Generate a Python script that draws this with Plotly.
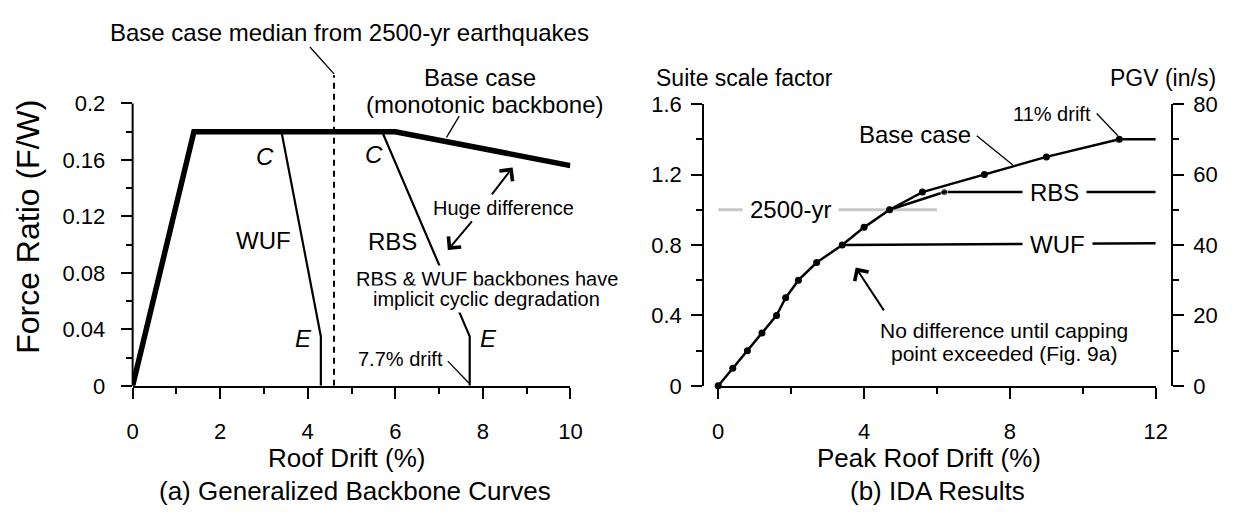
import plotly.graph_objects as go

# ---------------- data ----------------
# (a) Generalized backbone curves
bb_base_x = [0, 1.4, 6.0, 10]
bb_base_y = [0, 0.18, 0.18, 0.156]
bb_wuf_x = [3.4, 4.3, 4.3]
bb_wuf_y = [0.18, 0.035, 0]
bb_rbs_x = [5.7, 7.7, 7.7]
bb_rbs_y = [0.18, 0.035, 0]
median_x = [4.6, 4.6]
median_y = [0, 0.22]

# (b) IDA results
ida_base_x = [0, 0.4, 0.8, 1.2, 1.6, 1.85, 2.2, 2.7, 3.4, 4.0, 4.7, 5.6, 7.3, 9.0, 11.0]
ida_base_y = [0, 0.1, 0.2, 0.3, 0.4, 0.5, 0.6, 0.7, 0.8, 0.9, 1.0, 1.1, 1.2, 1.3, 1.4]
ida_base_tail_x = [11.0, 12]
ida_base_tail_y = [1.4, 1.4]
ida_rbs_x = [4.7, 6.2, 12]
ida_rbs_y = [1.0, 1.1, 1.1]
ida_rbs_msize = [7, 7, 0]
ida_wuf_x = [3.4, 12]
ida_wuf_y = [0.8, 0.81]
hazard_x = [0, 6]
hazard_y = [1.0, 1.0]

# ticks
left_xticks = [0, 2, 4, 6, 8, 10]
left_xminor = [1, 3, 5, 7, 9]
left_yticks = [0, 0.04, 0.08, 0.12, 0.16, 0.2]
left_yticktext = ["0", "0.04", "0.08", "0.12", "0.16", "0.2"]
left_yminor = [0.02, 0.06, 0.10, 0.14, 0.18]
right_xticks = [0, 4, 8, 12]
right_xminor = [2, 6, 10]
sf_ticks = [0, 0.4, 0.8, 1.2, 1.6]
sf_ticktext = ["0", "0.4", "0.8", "1.2", "1.6"]
sf_minor = [0.2, 0.6, 1.0, 1.4]
pgv_ticks = [0, 20, 40, 60, 80]
pgv_minor = [10, 30, 50, 70]

# ---------------- layout geometry ----------------
W, H = 1240, 521
FONT = "Liberation Sans, Arial, sans-serif"
TICKFONT = 22


def px(x):
    return x / W


def py(y):
    return 1 - y / H


L_X0, L_X1 = 128.5, 572.7
R_X0, R_X1 = 722.7, 1166.7
BOT = 392.7
L_YMAX = 0.26
L_TOP = BOT - L_YMAX * 1483
R_TOP = 96.7
R_LAXIS = 707.5
R_RAXIS = 1183.0

fig = go.Figure()

# ---- left panel traces ----
fig.add_trace(go.Scatter(x=median_x, y=median_y, mode="lines",
                         line=dict(color="black", width=2, dash="6px,5px"),
                         xaxis="x", yaxis="y", hoverinfo="skip"))
fig.add_trace(go.Scatter(x=bb_wuf_x, y=bb_wuf_y, mode="lines",
                         line=dict(color="black", width=2.2), xaxis="x", yaxis="y"))
fig.add_trace(go.Scatter(x=bb_rbs_x, y=bb_rbs_y, mode="lines",
                         line=dict(color="black", width=2.2), xaxis="x", yaxis="y"))
fig.add_trace(go.Scatter(x=bb_base_x, y=bb_base_y, mode="lines",
                         line=dict(color="black", width=5.5), xaxis="x", yaxis="y"))

# ---- right panel traces ----
fig.add_trace(go.Scatter(x=hazard_x, y=hazard_y, mode="lines",
                         line=dict(color="#c8c8c8", width=3), xaxis="x2", yaxis="y2"))
fig.add_trace(go.Scatter(x=ida_wuf_x, y=ida_wuf_y, mode="lines",
                         line=dict(color="black", width=2.5), xaxis="x2", yaxis="y2"))
fig.add_trace(go.Scatter(x=ida_rbs_x, y=ida_rbs_y, mode="lines+markers",
                         line=dict(color="black", width=2.5),
                         marker=dict(color="black", size=ida_rbs_msize),
                         cliponaxis=False, xaxis="x2", yaxis="y2"))
fig.add_trace(go.Scatter(x=ida_base_tail_x, y=ida_base_tail_y, mode="lines",
                         line=dict(color="black", width=2.5), xaxis="x2", yaxis="y2"))
fig.add_trace(go.Scatter(x=ida_base_x, y=ida_base_y, mode="lines+markers",
                         line=dict(color="black", width=2.5),
                         marker=dict(color="black", size=7),
                         cliponaxis=False, xaxis="x2", yaxis="y2"))
fig.add_trace(go.Scatter(x=[None], y=[None], xaxis="x2", yaxis="y3", mode="lines"))

axcommon = dict(showgrid=False, zeroline=False, ticks="outside", ticklen=11,
                tickwidth=2, tickcolor="black", linecolor="black", linewidth=2,
                tickfont=dict(family=FONT, size=TICKFONT, color="black"), fixedrange=True)
minor_common = dict(ticks="outside", ticklen=6, tickwidth=2, tickcolor="black")

fig.update_layout(
    width=W, height=H, margin=dict(l=0, r=0, t=0, b=0),
    paper_bgcolor="white", plot_bgcolor="white", showlegend=False,
    font=dict(family=FONT, color="black"),
    xaxis=dict(domain=[px(L_X0), px(L_X1)], range=[0, 10], anchor="y",
               tickvals=left_xticks, showline=True, ticklabelstandoff=14,
               minor=dict(tickvals=left_xminor, **minor_common), **axcommon),
    yaxis=dict(domain=[py(BOT), py(L_TOP)], range=[0, L_YMAX], anchor="x",
               tickvals=left_yticks, ticktext=left_yticktext, showline=False,
               ticklabelstandoff=11,
               minor=dict(tickvals=left_yminor, **minor_common), **axcommon),
    xaxis2=dict(domain=[px(R_X0), px(R_X1)], range=[0, 12], anchor="y2",
                tickvals=right_xticks, showline=True, ticklabelstandoff=14,
                minor=dict(tickvals=right_xminor, **minor_common), **axcommon),
    yaxis2=dict(domain=[py(BOT), py(R_TOP)], range=[0, 1.6], anchor="free",
                position=px(R_LAXIS), tickvals=sf_ticks, ticktext=sf_ticktext,
                showline=True, ticklabelstandoff=5,
                minor=dict(tickvals=sf_minor, **minor_common), **axcommon),
    yaxis3=dict(domain=[py(BOT), py(R_TOP)], range=[0, 80], anchor="free",
                overlaying="y2", side="right", position=px(R_RAXIS),
                tickvals=pgv_ticks, showline=True, ticklabelstandoff=5,
                minor=dict(tickvals=pgv_minor, **minor_common), **axcommon),
)

# left y-axis line only spanning 0..0.2
fig.add_shape(type="line", xref="paper", yref="y", x0=px(L_X0), x1=px(L_X0),
              y0=left_yticks[0], y1=left_yticks[-1], line=dict(color="black", width=2))

# leader lines
leaders = [
    ("x", "y", 4.6, 0.221, 4.05, 0.240),
    ("x", "y", 7.46, 0.191, 7.17, 0.176),
    ("x", "y", 7.20, 0.0175, 7.68, 0.002),
    ("x2", "y2", 7.09, 1.42, 8.08, 1.254),
    ("x2", "y2", 10.38, 1.546, 10.96, 1.42),
]
for xr, yr, x0, y0, x1, y1 in leaders:
    fig.add_shape(type="line", xref=xr, yref=yr, x0=x0, y0=y0, x1=x1, y1=y1,
                  line=dict(color="black", width=1.3))


def ann(text, x, y, xref="x", yref="y", size=24, bg=None, italic=False, pad=1, **kw):
    d = dict(text=text, x=x, y=y, xref=xref, yref=yref, showarrow=False,
             xanchor="center", yanchor="middle",
             font=dict(family=FONT, size=size, color="black",
                       style="italic" if italic else "normal"),
             borderpad=pad)
    if bg:
        d["bgcolor"] = bg
    d.update(kw)
    fig.add_annotation(**d)


# left panel texts
ann("Base case median from 2500-yr earthquakes", 4.95, 0.25)
ann("Base case", 7.94, 0.2187)
ann("(monotonic backbone)", 8.04, 0.1996)
ann("C", 3.03, 0.1625, italic=True)
ann("C", 5.51, 0.1637, italic=True)
ann("E", 3.91, 0.0337, italic=True)
ann("E", 8.12, 0.0335, italic=True)
ann("WUF", 3.0, 0.103)
ann("RBS", 5.93, 0.102)
ann("Huge difference", 8.48, 0.126, size=20)
ann("RBS &amp; WUF backbones have", 8.09, 0.0755, size=20, bg="white", pad=2)
ann("implicit cyclic degradation", 8.09, 0.0614, size=20, bg="white", pad=2)
ann("7.7% drift", 6.12, 0.0193, size=20)

# right panel texts
ann("Base case", 5.41, 1.429, xref="x2", yref="y2")
ann("11% drift", 9.16, 1.546, xref="x2", yref="y2", size=20)
ann("RBS", 9.22, 1.1, xref="x2", yref="y2", bg="white", pad=7)
ann("WUF", 9.3, 0.805, xref="x2", yref="y2", bg="white", pad=7)
ann("2500-yr", 1.99, 1.0, xref="x2", yref="y2", bg="white", pad=7)
ann("No difference until capping", 7.85, 0.3146, xref="x2", yref="y2", size=21)
ann("point exceeded (Fig. 9a)", 7.85, 0.1849, xref="x2", yref="y2", size=21)

# arrows
arrows = [
    ("x", "y", 8.68, 0.1547, 8.18, 0.1345),
    ("x", "y", 7.20, 0.0962, 7.78, 0.1176),
    ("x2", "y2", 3.77, 0.672, 4.57, 0.42),
]
for xr, yr, hx, hy, tx, ty in arrows:
    fig.add_annotation(text="", x=hx, y=hy, ax=tx, ay=ty, xref=xr, yref=yr,
                       axref=xr, ayref=yr, showarrow=True, arrowhead=4,
                       arrowsize=1.6, arrowwidth=2, arrowcolor="black")

# titles (paper coords)
ann("Roof Drift (%)", px(346), py(469), xref="paper", yref="paper", size=26)
ann("(a) Generalized Backbone Curves", px(354), py(503), xref="paper", yref="paper", size=26)
ann("Peak Roof Drift (%)", px(936.5), py(469), xref="paper", yref="paper", size=26)
ann("(b) IDA Results", px(945), py(503), xref="paper", yref="paper", size=26)
ann("Force Ratio (F/W)", px(22), py(226), xref="paper", yref="paper", size=32, textangle=-90)
ann("Suite scale factor", px(749.4), py(69), xref="paper", yref="paper", size=23)
ann("PGV (in/s)", px(1174.5), py(69), xref="paper", yref="paper", size=23)

fig.write_html("out.html")
